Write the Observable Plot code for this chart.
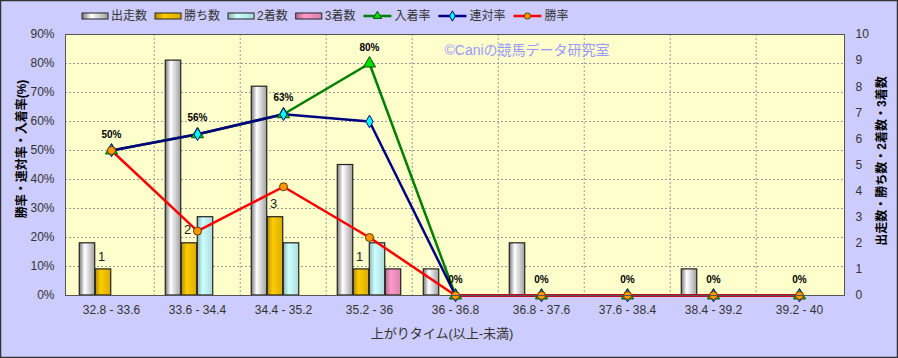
<!DOCTYPE html>
<html><head><meta charset="utf-8">
<script src="https://cdn.jsdelivr.net/npm/d3@7"></script>
<script src="https://cdn.jsdelivr.net/npm/@observablehq/plot@0.6"></script>
<style>
body{margin:0;background:#CCCCFF;}
#chart svg{display:block;}
</style>
</head><body><div id="chart"></div>
<script>
const categories = ["32.8 - 33.6","33.6 - 34.4","34.4 - 35.2","35.2 - 36","36 - 36.8","36.8 - 37.6","37.6 - 38.4","38.4 - 39.2","39.2 - 40"];
const starts  = [2, 9, 8, 5, 1, 2, 0, 1, 0];
const wins    = [1, 2, 3, 1, 0, 0, 0, 0, 0];
const seconds = [0, 3, 2, 2, 0, 0, 0, 0, 0];
const thirds  = [0, 0, 0, 1, 0, 0, 0, 0, 0];
const winRate    = [50, 22.2, 37.5, 20, 0, 0, 0, 0, 0];
const rentaiRate = [50, 55.6, 62.5, 60, 0, 0, 0, 0, 0];
const placeRate  = [50, 55.6, 62.5, 80, 0, 0, 0, 0, 0];
const barSeries  = ["出走数","勝ち数","2着数","3着数"];
const lineSeries = ["入着率","連対率","勝率"];
const leftTicks  = [0,10,20,30,40,50,60,70,80,90];
const rightTicks = [0,1,2,3,4,5,6,7,8,9,10];
const yTitleLeft  = "勝率・連対率・入着率(%)";
const yTitleRight = "出走数・勝ち数・2着数・3着数";
const xTitle = "上がりタイム(以上-未満)";
const watermark = "©Caniの競馬データ研究室";

const W = 898, H = 358, mL = 65, mR = 54, mT = 34, mB = 63;
const bw = (W - mL - mR) / categories.length;
const barW = 16;
const groupOff = (bw - barW * 4) / 2;
const K = 9; // 10 counts == 90%
const FONT = "'Liberation Sans','Noto Sans CJK JP',sans-serif";

const barFills = ["url(#gGray)","url(#gGold)","url(#gCyan)","url(#gPink)"];
const barData = [starts, wins, seconds, thirds];

const rows = categories.map((c, i) => ({c, i}));

function barMark(arr, s) {
  const data = rows.filter(d => arr[d.i] > 0);
  return Plot.barY(data, {
    x: "c", y1: 0, y2: d => arr[d.i] * K,
    insetLeft: groupOff + barW * s,
    insetRight: bw - groupOff - barW * (s + 1),
    fill: barFills[s], stroke: "#222", strokeWidth: 1.2
  });
}

const gridStyle = {stroke: "#999", strokeOpacity: 1, strokeDasharray: "2,2", strokeWidth: 1};

const chart = Plot.plot({
  width: W, height: H,
  marginLeft: mL, marginRight: mR, marginTop: mT, marginBottom: mB,
  style: {background: "#CCCCFF", fontFamily: FONT, fontSize: "12px", color: "#333"},
  x: {type: "band", domain: categories, padding: 0},
  y: {domain: [0, 90]},
  marks: [
    Plot.frame({fill: "#FFFFCC", stroke: "none"}),
    Plot.gridY({ticks: leftTicks.slice(1, -1), ...gridStyle}),
    Plot.ruleX(categories.slice(1), {x: d => d, dx: -bw / 2, ...gridStyle}),
    Plot.axisY({ticks: leftTicks, tickFormat: d => d + "%", tickSize: 0, tickPadding: 11, label: null, fill: "#333", fontSize: 12}),
    Plot.axisY({anchor: "right", ticks: rightTicks.map(d => d * K), tickFormat: d => Math.round(d / K), tickSize: 0, tickPadding: 11, label: null, fill: "#333", fontSize: 12}),
    Plot.axisX({tickSize: 0, tickPadding: 10, label: null, fill: "#333", fontSize: 12}),
    ...barData.map((arr, s) => barMark(arr, s)),
    Plot.line(rows, {x: "c", y: d => placeRate[d.i], stroke: "#008000", strokeWidth: 2.5}),
    Plot.line(rows, {x: "c", y: d => rentaiRate[d.i], stroke: "#000080", strokeWidth: 2.5}),
    Plot.line(rows, {x: "c", y: d => winRate[d.i], stroke: "#FF0000", strokeWidth: 2.5}),
    Plot.dot(rows, {x: "c", y: d => placeRate[d.i], symbol: "triangle", r: 4.5, fill: "#00DD00", stroke: "#005500", strokeWidth: 1}),
    Plot.dot(rows, {x: "c", y: d => rentaiRate[d.i], symbol: "diamond", r: 3.8, fill: "#00FFFF", stroke: "#000080", strokeWidth: 1}),
    Plot.dot(rows, {x: "c", y: d => winRate[d.i], symbol: "circle", r: 4, fill: "#FF9900", stroke: "#663300", strokeWidth: 1}),
    Plot.text(rows, {x: "c", y: d => placeRate[d.i], text: d => Math.round(placeRate[d.i]) + "%", dy: -16, fontWeight: "bold", fontSize: 10, fill: "#000"}),
    Plot.text(rows.filter(d => wins[d.i] > 0), {x: "c", y: d => wins[d.i] * K, text: d => String(wins[d.i]), dx: -(bw / 2 - groupOff - barW * 1.5) - 2, dy: -13, fontSize: 13, fill: "#222"}),
    Plot.text([watermark], {frameAnchor: "top", textAnchor: "middle", lineAnchor: "middle", dx: 72, dy: 16, fill: "#9999FF", fontSize: 14}),
    Plot.text([yTitleLeft], {frameAnchor: "left", textAnchor: "middle", lineAnchor: "middle", dx: -43, dy: -16, rotate: -90, fontWeight: "bold", fontSize: 12, fill: "#000"}),
    Plot.text([yTitleRight], {frameAnchor: "right", textAnchor: "middle", lineAnchor: "middle", dx: 38, dy: -4, rotate: -90, fontWeight: "bold", fontSize: 12, fill: "#000"}),
    Plot.text([xTitle], {frameAnchor: "bottom", textAnchor: "middle", lineAnchor: "middle", dx: -13, dy: 38, fontSize: 13, fill: "#333"}),
    Plot.frame({stroke: "#555", strokeWidth: 1})
  ]
});

document.getElementById("chart").appendChild(chart);

// gradients
const svg = d3.select(chart);
const defs = svg.insert("defs", ":first-child");
function grad(id, c0, c1, c2) {
  const g = defs.append("linearGradient").attr("id", id).attr("x1", 0).attr("x2", 1).attr("y1", 0).attr("y2", 0);
  g.append("stop").attr("offset", "0%").attr("stop-color", c0);
  g.append("stop").attr("offset", "35%").attr("stop-color", c1);
  g.append("stop").attr("offset", "100%").attr("stop-color", c2);
}
grad("gGray", "#777", "#FFFFFF", "#A0A0A0");
grad("gGold", "#B38F00", "#FFCC00", "#D9AD00");
grad("gCyan", "#8FB3B3", "#CCFFFF", "#ADD9D9");
grad("gPink", "#B36B8F", "#FF99CC", "#D982AD");

// legend
const lg = svg.append("g").attr("font-family", FONT).attr("font-size", 12).attr("fill", "#333").attr("text-anchor", "start");
let x = 82;
const ly = 16;
barSeries.forEach((name, s) => {
  lg.append("rect").attr("x", x).attr("y", ly - 3).attr("width", 26).attr("height", 6).attr("fill", barFills[s]).attr("stroke", "#222");
  const t = lg.append("text").attr("x", x + 29).attr("y", ly).attr("dy", "0.35em").attr("text-anchor", "start").text(name);
  x += 29 + t.node().getComputedTextLength() + 8;
});
const lineStyles = [
  {stroke: "#008000", sym: "triangle", fill: "#00DD00", ms: "#005500"},
  {stroke: "#000080", sym: "diamond", fill: "#00FFFF", ms: "#000080"},
  {stroke: "#FF0000", sym: "circle", fill: "#FF9900", ms: "#663300"}
];
lineSeries.forEach((name, s) => {
  const st = lineStyles[s];
  lg.append("line").attr("x1", x).attr("x2", x + 28).attr("y1", ly).attr("y2", ly).attr("stroke", st.stroke).attr("stroke-width", 2.5);
  const sym = st.sym === "triangle" ? d3.symbolTriangle : st.sym === "diamond" ? d3.symbolDiamond : d3.symbolCircle;
  lg.append("path").attr("transform", `translate(${x + 14},${ly})`).attr("d", d3.symbol(sym, 30)()).attr("fill", st.fill).attr("stroke", st.ms);
  const t = lg.append("text").attr("x", x + 31).attr("y", ly).attr("dy", "0.35em").attr("text-anchor", "start").text(name);
  x += 31 + t.node().getComputedTextLength() + 8;
});
svg.append("rect").attr("x", 0.5).attr("y", 0.5).attr("width", W - 1).attr("height", H - 1).attr("fill", "none").attr("stroke", "#333").attr("stroke-width", 1.5);
</script>
</body></html>
